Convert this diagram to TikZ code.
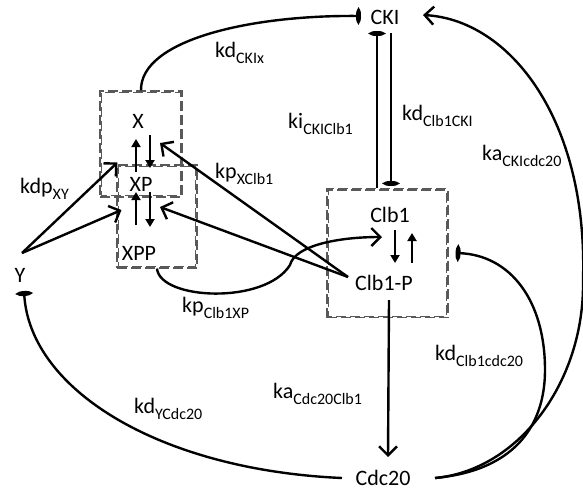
\documentclass[tikz,border=0pt]{standalone}
\usepackage{fontspec}
\setmainfont{Carlito}
\usetikzlibrary{arrows.meta,calc}

% rate constant: main letters with a lowered, smaller subscript
\newcommand{\rate}[2]{#1\raisebox{-6pt}{\fontsize{16}{18}\selectfont #2}}

\begin{document}
\begin{tikzpicture}[x=1pt,y=-1pt,
  every node/.style={font=\fontsize{22}{26}\selectfont, inner sep=0pt},
  species/.style={anchor=base},
  ratelbl/.style={anchor=base west},
  link/.style={line width=2.4pt},
  act/.style={link,-{Straight Barb[length=9pt,width=18pt]}},
  inh/.style={link,-{Ellipse[length=5pt,width=15pt]}},
  flip/.style={line width=2.8pt,-{Triangle[length=8pt,width=9pt]}},
  boxline/.style={draw=black!65,line width=1.1pt,dash pattern=on 10pt off 4pt},
  grpbox/.style={boxline,rectangle}
]
\useasboundingbox (0,0) rectangle (583,491);

% complex boxes, each with a second dashed outline just inside
\node[grpbox, minimum width=82pt, minimum height=106pt] (xbox) at (141,144) {};
\node[grpbox, minimum width=80pt, minimum height=103pt] (xppbox) at (157,216.5) {};
\node[grpbox, minimum width=121pt, minimum height=129pt] (clbbox) at (387.5,253) {};
\foreach \b in {xbox,xppbox,clbbox}
  \draw[boxline,dash phase=5pt] ($(\b.south west)+(2,-2)$) rectangle ($(\b.north east)+(-2,2)$);

% species
\node[species] (CKI) at (385,24) {CKI};
\node[species] (X) at (138,128) {X};
\node[species] (XP) at (141,191) {XP};
\node[species] (XPP) at (139,260) {XPP};
\node[species] (Y) at (20,282) {Y};
\node[species] (Clb1) at (390,222) {Clb1};
\node[species] (Clb1P) at (384,290) {Clb1-P};
\node[species] (Cdc20) at (383,485) {Cdc20};

% rate constants
\node[ratelbl] (rCKIx) at (215,57) {\rate{kd}{CKIx}};
\node[ratelbl] (rCKIClb1) at (288,128) {\rate{ki}{CKIClb1}};
\node[ratelbl] (rClb1CKI) at (402,120) {\rate{kd}{Clb1CKI}};
\node[ratelbl] (rCKIcdc20) at (482,160) {\rate{ka}{CKIcdc20}};
\node[ratelbl] (rXY) at (20,193) {\rate{kdp}{XY}};
\node[ratelbl] (rXClb1) at (215,178) {\rate{kp}{XClb1}};
\node[ratelbl] (rClb1XP) at (182,312) {\rate{kp}{Clb1XP}};
\node[ratelbl] (rYCdc20) at (134,413) {\rate{kd}{YCdc20}};
\node[ratelbl] (rCdc20Clb1) at (273,398) {\rate{ka}{Cdc20Clb1}};
\node[ratelbl] (rClb1cdc20) at (435,360) {\rate{kd}{Clb1cdc20}};

% connector end points
\coordinate (cdcR) at ($(Cdc20.base)+(52,-7)$);
\coordinate (cdcL) at ($(Cdc20.base)+(-41,-7)$);
\coordinate (yOut) at ($(Y.base)+(2,-29)$);
\coordinate (pOut) at ($(Clb1P.base)+(-36,-13)$);

% X group -> CKI
\draw[inh] (xbox.north) .. controls (140,40) and (250,15) .. ($(CKI.base)+(-24,-8)$);
% Clb1 <-> CKI
\draw[inh] ($(clbbox.north)+(-10.5,0)$) -- ($(CKI.base)+(-8,7)$);
\draw[inh] ($(CKI.base)+(6,9)$) -- ($(clbbox.north)+(3.5,-2)$);
% Cdc20 -> CKI
\draw[act] (cdcR) .. controls (520,470) and (585,380) .. (583,280)
                  .. controls (588,120) and (510,20) .. ($(CKI.base)+(38,-9)$);
% Cdc20 -| Clb1
\draw[inh] (cdcR) .. controls (520,470) and (545,420) .. (545,370)
                  .. controls (545,300) and (510,255) .. ($(clbbox.east)+(7,0)$);
% Cdc20 -| Y
\draw[inh] (cdcL) .. controls (160,470) and (30,390) .. ($(Y.base)+(4,9)$);
% Y -> dephosphorylation
\draw[act] (yOut) -- ($(xppbox.north west)+(1,-2)$);
\draw[act] (yOut) -- ($(xppbox.west)+(5,-6.5)$);
% Clb1-P -> phosphorylation of X
\draw[act] (pOut) -- ($(X.base)+(22,15)$);
\draw[act] (pOut) -- ($(XP.base)+(19,16)$);
% XPP -> Clb1
\draw[act] (xppbox.south) .. controls (160,300) and (265,305) .. (290,265)
                          .. controls (295,245) and (340,237) .. ($(Clb1.base)+(-8,15)$);
% Clb1-P -> Cdc20
\draw[act] ($(Clb1P.base)+(5,10)$) -- ($(Cdc20.base)+(5,-28)$);

% interconversions inside the boxes
\draw[flip] ($(X.base)+(-2,44)$) -- ($(X.base)+(-2,11)$);
\draw[flip] ($(X.base)+(12,7)$) -- ($(X.base)+(12,40)$);
\draw[flip] ($(XPP.base)+(-3,-35)$) -- ($(XP.base)+(-5,1)$);
\draw[flip] ($(XP.base)+(9,1)$) -- ($(XPP.base)+(11,-33)$);
\draw[flip] ($(Clb1.base)+(5,8)$) -- ($(Clb1.base)+(5,41)$);
\draw[flip] ($(Clb1.base)+(22,41)$) -- ($(Clb1.base)+(22,11)$);
\end{tikzpicture}
\end{document}
